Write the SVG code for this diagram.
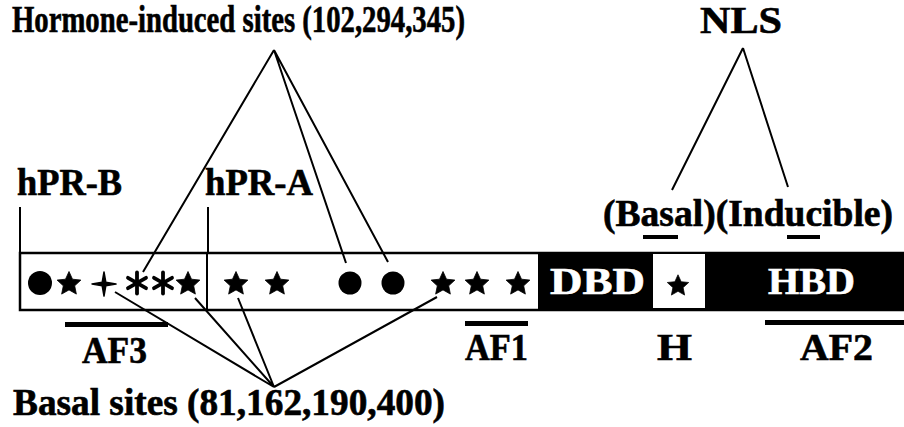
<svg xmlns="http://www.w3.org/2000/svg" xmlns:xlink="http://www.w3.org/1999/xlink" width="904" height="427" viewBox="0 0 904 427">
<style>
text{font-family:'Liberation Serif','Times New Roman',Times,serif;font-weight:700;font-size:37px;fill:#000;stroke:#000;stroke-width:0.6}
text.w{fill:#fff;stroke:#fff}
.ln{stroke:#000;stroke-width:2;fill:none}
.bar{fill:#000}
</style>
<defs>
<path id="star" d="M0,-12.5 L3.5,-4.8 L11.9,-3.9 L5.7,1.8 L7.35,10.1 L0,5.9 L-7.35,10.1 L-5.7,1.8 L-11.9,-3.9 L-3.5,-4.8 Z" fill="#000" stroke="#000" stroke-width="0.8" stroke-linejoin="round"/>
<g id="ast" stroke="#000" stroke-width="3.8" stroke-linecap="round"><line x1="0" y1="-10.5" x2="0" y2="10.5"/><line x1="-9" y1="-5.2" x2="9" y2="5.2"/><line x1="-9" y1="5.2" x2="9" y2="-5.2"/></g>
</defs>
<rect width="904" height="427" fill="#fff"/>

<g id="protein">
<rect x="20" y="253" width="884" height="57" fill="#fff" stroke="#000" stroke-width="2.5"/>
<line x1="207" y1="253" x2="207" y2="310" stroke="#000" stroke-width="2"/>
<rect x="538" y="252" width="366" height="59" fill="#000"/>
<rect x="653" y="254" width="52" height="54" fill="#fff"/>
<text class="w" x="550" y="294" textLength="95" lengthAdjust="spacingAndGlyphs">DBD</text>
<text class="w" x="768" y="294" textLength="87" lengthAdjust="spacingAndGlyphs">HBD</text>
</g>

<g id="sites">
<circle cx="40" cy="283" r="12"/>
<use xlink:href="#star" x="69" y="284"/>
<path d="M104,272 L105.8,282.2 L116,284 L105.8,285.8 L104,296 L102.2,285.8 L92,284 L102.2,282.2 Z" fill="#000" stroke="#000" stroke-width="1.5" stroke-linejoin="round"/>
<use xlink:href="#ast" x="137" y="283"/>
<use xlink:href="#ast" x="163" y="283"/>
<use xlink:href="#star" x="188" y="284"/>
<use xlink:href="#star" x="236" y="284"/>
<use xlink:href="#star" x="277" y="284"/>
<circle cx="350" cy="283" r="11.5"/>
<circle cx="393" cy="283" r="11.5"/>
<use xlink:href="#star" x="443" y="284"/>
<use xlink:href="#star" x="477" y="284"/>
<use xlink:href="#star" x="518" y="284"/>
<g transform="translate(678 286) scale(0.9)"><use xlink:href="#star"/></g>
</g>

<g id="domains">
<rect class="bar" x="65" y="322" width="103" height="5"/>
<text x="82" y="363" textLength="65" lengthAdjust="spacingAndGlyphs">AF3</text>
<rect class="bar" x="465" y="321" width="63" height="5"/>
<text x="465" y="360" textLength="63" lengthAdjust="spacingAndGlyphs">AF1</text>
<text x="657" y="360" textLength="35" lengthAdjust="spacingAndGlyphs">H</text>
<rect class="bar" x="765" y="320" width="139" height="5"/>
<text x="800" y="360" textLength="73" lengthAdjust="spacingAndGlyphs">AF2</text>
<rect class="bar" x="643" y="235" width="35" height="4"/>
<rect class="bar" x="787" y="235" width="33" height="4"/>
</g>

<g id="hprb">
<text x="17" y="195" textLength="105" lengthAdjust="spacingAndGlyphs">hPR-B</text>
<line class="ln" x1="20" y1="207" x2="20" y2="253"/>
</g>
<g id="hpra">
<text x="205" y="195" textLength="108" lengthAdjust="spacingAndGlyphs">hPR-A</text>
<line class="ln" x1="208" y1="207" x2="208" y2="253"/>
</g>

<g id="hormone">
<text x="12" y="32" textLength="453" lengthAdjust="spacingAndGlyphs">Hormone-induced sites (102,294,345)</text>
</g>
<g id="nls">
<text x="700" y="33" textLength="82" lengthAdjust="spacingAndGlyphs">NLS</text>
<text x="603" y="226" textLength="290" lengthAdjust="spacingAndGlyphs">(Basal)(Inducible)</text>
</g>
<g id="basal">
<text x="13" y="415" textLength="432" lengthAdjust="spacingAndGlyphs">Basal sites (81,162,190,400)</text>
</g>

<g id="connectors">
<path class="ln" d="M274,50 L143,272 M274,50 L346,263 M274,50 L388,262"/>
<path class="ln" d="M743,48 L672,190 M743,48 L788,187"/>
<path class="ln" d="M274,387 L115,292 M274,387 L195,298 M274,387 L238,298 M274,387 L437,297"/>
</g>
</svg>
